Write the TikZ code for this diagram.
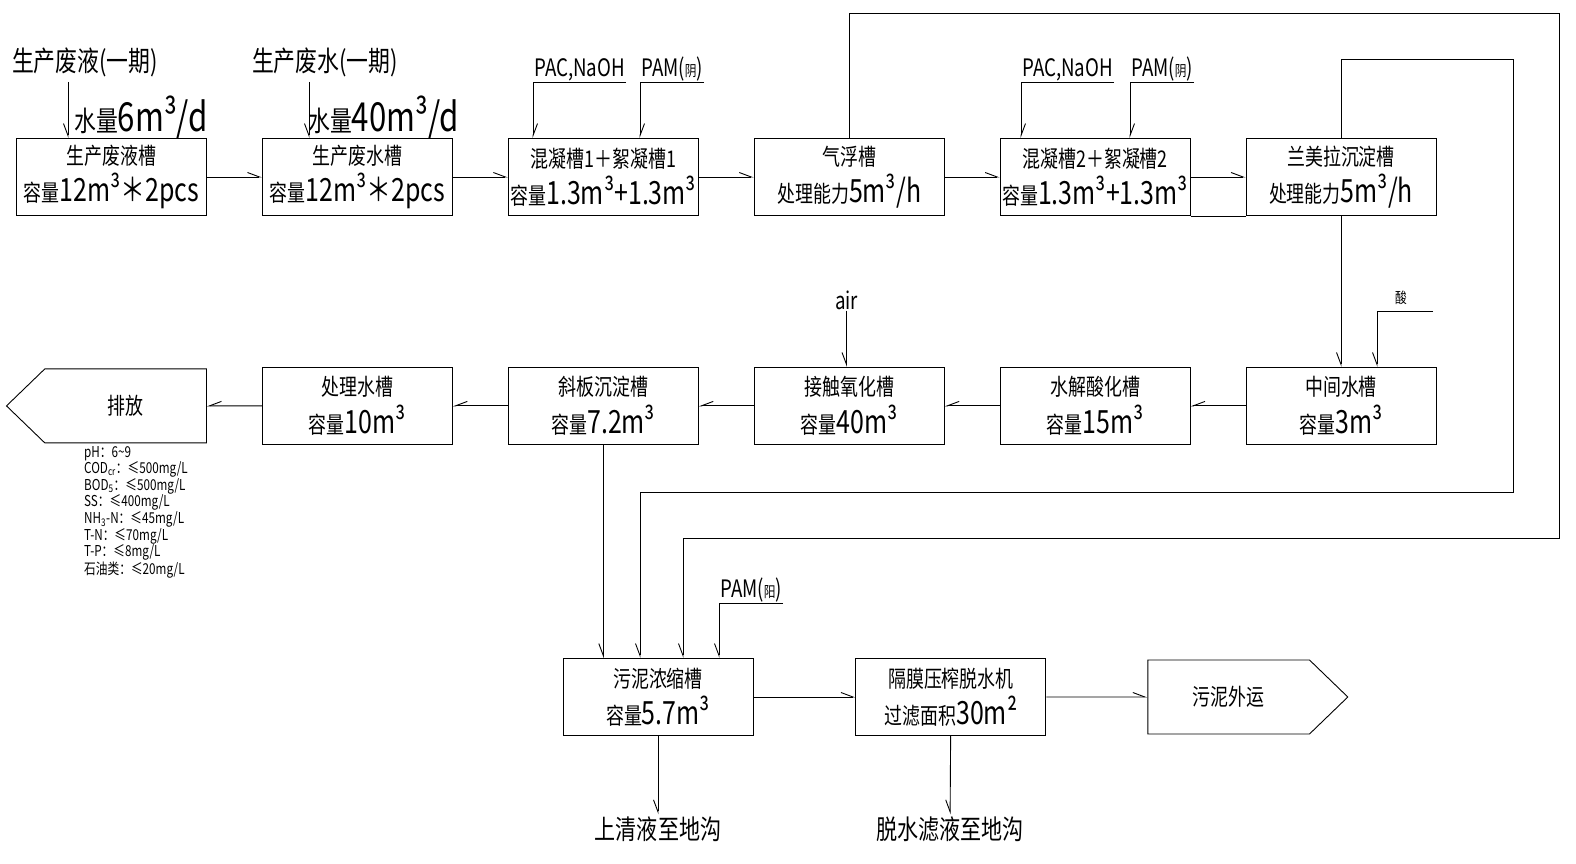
\documentclass[tikz,border=0pt]{standalone}
\usepackage{fontspec}
\newfontfamily\cad[FakeStretch=0.78]{Noto Sans CJK SC}
\usetikzlibrary{arrows.meta,positioning,shapes.symbols}
\newcommand{\numpart}[2][32]{{\fontsize{#1}{#1}\selectfont #2}}

\begin{document}
\begin{tikzpicture}[x=1pt, y=-1pt,
            node distance=55pt,
            block/.style={rectangle, draw, line width=0.9pt, minimum width=190pt, minimum height=77pt, inner sep=0pt, align=center, font=\cad\fontsize{23}{30}\selectfont},
            exit/.style={signal, draw, line width=0.9pt, signal pointer angle=88, minimum width=200pt, minimum height=74pt, font=\cad\fontsize{23}{30}\selectfont},
            arrow/.style={-{Straight Barb[left, length=12pt, width=9pt]}, line width=0.9pt},
            rarrow/.style={-{Straight Barb[right, length=12pt, width=9pt]}, line width=0.9pt},
            plain/.style={line width=0.9pt},
            biglabel/.style={font=\cad\fontsize{28}{30}\selectfont, inner sep=2pt},
            chem/.style={font=\cad\fontsize{24}{26}\selectfont, inner sep=1pt, anchor=south west}
        ]
            \useasboundingbox (0,0) rectangle (1576,864);

            % Top row
            \node[block] (b1) at (111.5,177) {生产废液槽\\[6pt]容量\numpart{12m³＊2pcs}};
            \node[block, right=of b1] (b2) {生产废水槽\\[6pt]容量\numpart{12m³＊2pcs}};
            \node[block, right=of b2] (b3) {混凝槽1＋絮凝槽1\\[6pt]容量\numpart{1.3m³+1.3m³}};
            \node[block, right=of b3] (b4) {气浮槽\\[6pt]处理能力\numpart{5m³/h}};
            \node[block, right=of b4] (b5) {混凝槽2＋絮凝槽2\\[6pt]容量\numpart{1.3m³+1.3m³}};
            \node[block, right=of b5] (b6) {兰美拉沉淀槽\\[6pt]处理能力\numpart{5m³/h}};

            % Middle row
            \node[block, below=151pt of b6] (m6) {中间水槽\\[6pt]容量\numpart{3m³}};
            \node[block, left=of m6] (m5) {水解酸化槽\\[6pt]容量\numpart{15m³}};
            \node[block, left=of m5] (m4) {接触氧化槽\\[6pt]容量\numpart{40m³}};
            \node[block, left=of m4] (m3) {斜板沉淀槽\\[6pt]容量\numpart{7.2m³}};
            \node[block, left=of m3] (m2) {处理水槽\\[6pt]容量\numpart{10m³}};
            \node[exit, signal to=west, left=of m2] (m1) {排放};

            % Sludge row
            \node[block] (s1) at (658,697) {污泥浓缩槽\\[6pt]容量\numpart{5.7m³}};
            \node[block, right=102pt of s1] (s2) {隔膜压榨脱水机\\[6pt]过滤面积\numpart{30m²}};
            \node[exit, signal to=east, right=101pt of s2] (s3) {污泥外运};

            % Inflows
            \node[biglabel] (in1) at (85,62) {生产废液(一期)};
            \node[biglabel] (in2) at (325,62) {生产废水(一期)};
            \node[biglabel, anchor=west] (q1) at (72,117) {水量\numpart[40]{6m³/d}};
            \node[biglabel, anchor=west] (q2) at (306,117) {水量\numpart[40]{40m³/d}};
            \coordinate (in1a) at (68,82);
            \coordinate (in2a) at (309,82);
            \draw[rarrow] (in1a) -- (in1a |- b1.north);
            \draw[rarrow] (in2a) -- (in2a |- b2.north);

            % Dosing
            \node[chem] (c1) at (533,82) {PAC,NaOH};
            \node[chem] (c2) at (640,82) {PAM(\numpart[15]{阴})};
            \node[chem] (c3) at (1021,82) {PAC,NaOH};
            \node[chem] (c4) at (1130,82) {PAM(\numpart[15]{阴})};
            \node[chem] (c5) at (719,603) {PAM(\numpart[15]{阳})};
            \draw[arrow] (c1.south east) -| (c1.south west |- b3.north);
            \draw[arrow] (c2.south east) -| (c2.south west |- b3.north);
            \draw[arrow] (c3.south east) -| (c3.south west |- b5.north);
            \draw[arrow] (c4.south east) -| (c4.south west |- b5.north);
            \draw[rarrow] (c5.south east) -| (c5.south west |- s1.north);
            \node[chem, anchor=center] (air) at (846.5,300) {air};
            \draw[rarrow] (air) -- (air |- m4.north);
            \node[font=\cad\fontsize{15}{15}\selectfont, inner sep=0pt] (acidtxt) at (1401,298) {酸};
            \coordinate (acid) at (1433,311);
            \coordinate (acidin) at (1377,311);
            \draw[rarrow] (acid) -- (acidin) -- (acidin |- m6.north);

            % Main flow
            \draw[arrow] (b1) -- (b2);
            \draw[arrow] (b2) -- (b3);
            \draw[arrow] (b3) -- (b4);
            \draw[arrow] (b4) -- (b5);
            \draw[arrow] (b5) -- (b6);
            \draw[plain] (b5.south east) -- (b6.south west);
            \draw[rarrow] (b6) -- (m6);
            \draw[rarrow] (m6) -- (m5);
            \draw[rarrow] (m5) -- (m4);
            \draw[rarrow] (m4) -- (m3);
            \draw[rarrow] (m3) -- (m2);
            \draw[rarrow] (m2) -- (m1);

            % Sludge lines
            \coordinate (o1) at (1559,13);
            \coordinate (o2) at (683,538);
            \coordinate (i1) at (1513,59);
            \coordinate (i2) at (640,492);
            \draw[rarrow] (b4.north) |- (o1) -- (o1 |- o2) -- (o2) -- (o2 |- s1.north);
            \draw[rarrow] (b6.north) |- (i1) -- (i1 |- i2) -- (i2) -- (i2 |- s1.north);
            \draw[rarrow] (m3) -- (m3 |- s1.north);
            \draw[arrow] (s1) -- (s2);
            \draw[arrow] (s2) -- (s3);

            % Outlets
            \node[biglabel, font=\cad\fontsize{27}{30}\selectfont] (out1) at (658,829) {上清液至地沟};
            \node[biglabel, font=\cad\fontsize{27}{30}\selectfont] (out2) at (950,829) {脱水滤液至地沟};
            \draw[rarrow] (s1) -- (out1);
            \draw[rarrow] (s2) -- (out2);

            % Discharge limits
            \node[anchor=north west, align=left, inner sep=0pt, font=\cad\fontsize{15}{15}\selectfont] (limits) at (84,446) {pH：6\textasciitilde9\\COD\textsubscript{cr}：≤500mg/L\\BOD\textsubscript{5}：≤500mg/L\\SS：≤400mg/L\\NH\textsubscript{3}-N：≤45mg/L\\T-N：≤70mg/L\\T-P：≤8mg/L\\石油类：≤20mg/L};
        \end{tikzpicture}
\end{document}
